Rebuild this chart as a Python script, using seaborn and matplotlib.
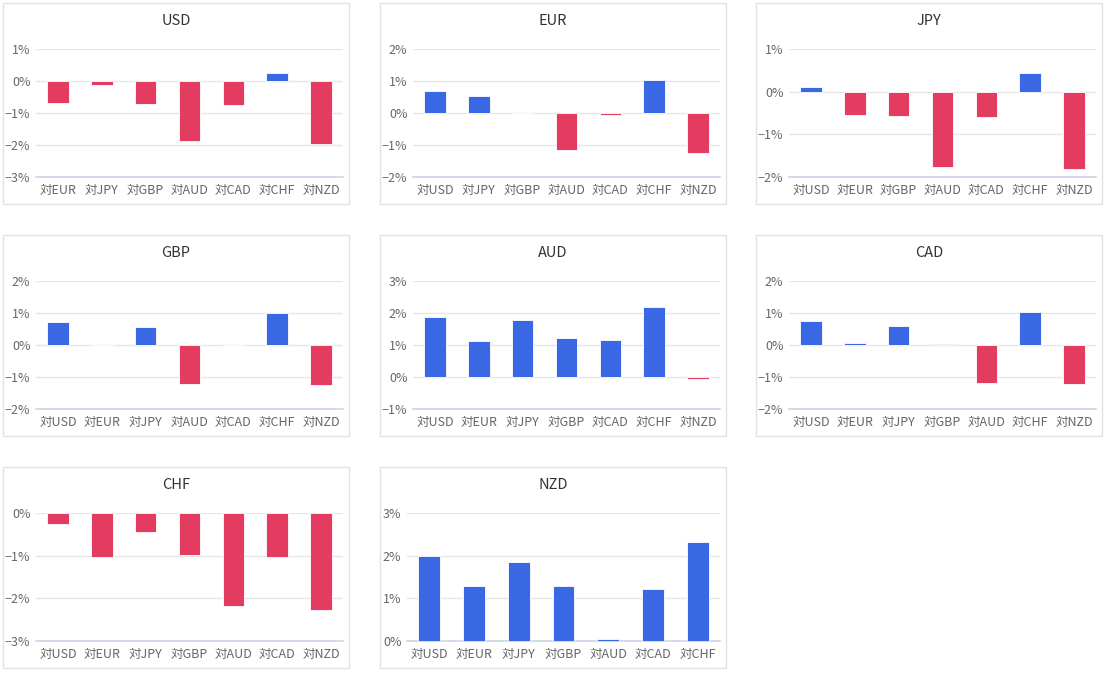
import matplotlib.pyplot as plt
import pandas as pd
import seaborn as sns
from matplotlib.patches import Rectangle
from matplotlib.ticker import FuncFormatter, MultipleLocator

currencies = ["USD", "EUR", "JPY", "GBP", "AUD", "CAD", "CHF", "NZD"]

usd_vals = [-0.69, -0.13, -0.72, -1.88, -0.75, 0.25, -1.98]
eur_vals = [0.69, 0.53, 0.0, -1.16, -0.05, 1.02, -1.26]
jpy_vals = [0.10, -0.55, -0.58, -1.77, -0.60, 0.43, -1.82]
gbp_vals = [0.72, 0.0, 0.56, -1.22, 0.0, 1.00, -1.25]
aud_vals = [1.88, 1.13, 1.79, 1.23, 1.16, 2.20, -0.05]
cad_vals = [0.75, 0.06, 0.59, 0.04, -1.19, 1.03, -1.22]
chf_vals = [-0.26, -1.02, -0.45, -0.99, -2.19, -1.04, -2.28]
nzd_vals = [2.00, 1.28, 1.84, 1.28, 0.05, 1.23, 2.31]

y_min = [-3, -2, -2, -2, -1, -2, -3, 0]
y_max = [1, 2, 1, 2, 3, 2, 0, 3]

panel_values = [usd_vals, eur_vals, jpy_vals, gbp_vals, aud_vals, cad_vals, chf_vals, nzd_vals]

BLUE = "#3a67e3"
RED = "#e43b61"
W, H = 1105, 673

sns.set_theme(style="white")
plt.rcParams["font.family"] = ["Noto Sans CJK JP", "DejaVu Sans"]
plt.rcParams["axes.unicode_minus"] = True


def pct(v, _pos):
    return f"{v:.0f}%".replace("-", "\u2212")


fig = plt.figure(figsize=(W / 100, H / 100), dpi=100)
fig.patch.set_facecolor("white")

col_left = [3, 380, 756]
row_top = [3, 235, 467]
panel_w, panel_h = 346, 201

for index, base in enumerate(currencies):
    pl = col_left[index % 3]
    pt = row_top[index // 3]

    # panel frame around each small chart
    fig.patches.append(
        Rectangle(
            (pl / W, 1 - (pt + panel_h) / H),
            panel_w / W,
            panel_h / H,
            transform=fig.transFigure,
            fill=False,
            edgecolor="#dce5e2",
            linewidth=1,
        )
    )

    left_off = 33 if y_min[index] < 0 else 27
    ax_left = pl + left_off
    ax_right = pl + 340
    ax_top = pt + 46
    ax_bottom = pt + 174
    ax = fig.add_axes(
        [ax_left / W, 1 - ax_bottom / H, (ax_right - ax_left) / W, (ax_bottom - ax_top) / H]
    )

    labels = ["対" + c for c in currencies if c != base]
    df = pd.DataFrame({"pair": labels, "value": panel_values[index]})
    df["sign"] = ["up" if v >= 0 else "down" for v in df["value"]]

    sns.barplot(
        data=df,
        x="pair",
        y="value",
        hue="sign",
        palette={"up": BLUE, "down": RED},
        saturation=1,
        dodge=False,
        width=0.49,
        legend=False,
        edgecolor="white",
        linewidth=0.6,
        ax=ax,
        zorder=3,
    )

    ax.set_ylim(y_min[index], y_max[index])
    ax.set_xlim(-0.5, len(labels) - 0.5)
    ax.yaxis.set_major_locator(MultipleLocator(1))
    ax.yaxis.set_major_formatter(FuncFormatter(pct))
    ax.grid(axis="y", color="#e6e6e6", linewidth=1, zorder=0)
    ax.set_axisbelow(True)
    ax.set_xlabel("")
    ax.set_ylabel("")
    for side in ["left", "top", "right"]:
        ax.spines[side].set_visible(False)
    ax.spines["bottom"].set_color("#c8d2e6")
    ax.spines["bottom"].set_linewidth(1.1)
    ax.tick_params(axis="both", length=0, labelsize=9, labelcolor="#666666")
    ax.tick_params(axis="x", pad=5)
    ax.tick_params(axis="y", pad=4)

    fig.text(
        (pl + panel_w / 2) / W,
        1 - (pt + 18) / H,
        base,
        ha="center",
        va="center",
        fontsize=10.5,
        color="#333333",
    )

plt.savefig("out.png", dpi=100)
